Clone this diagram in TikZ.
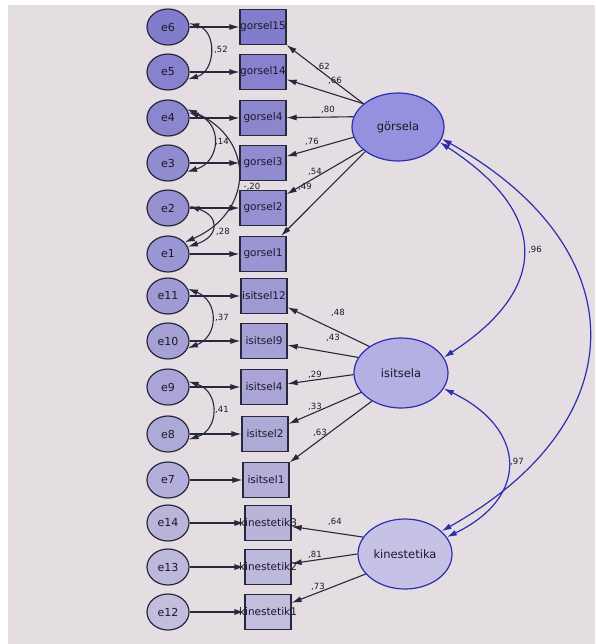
\documentclass[tikz,border=0pt]{standalone}
\usepackage{fontspec}
\setmainfont{DejaVu Sans}
\usetikzlibrary{shapes.geometric,arrows.meta}

\definecolor{bgc}{RGB}{228,222,227}
\definecolor{topc}{RGB}{130,124,205}
\definecolor{lowc}{RGB}{194,190,220}
\definecolor{edgec}{RGB}{40,40,60}
\definecolor{latedge}{RGB}{45,45,175}
\definecolor{txtc}{RGB}{25,25,40}
\definecolor{gorc}{RGB}{150,145,222}
\definecolor{isic}{RGB}{180,176,228}
\definecolor{kinc}{RGB}{198,194,230}

\tikzset{
  errvar/.style={ellipse, draw=edgec, line width=1.2pt, minimum width=42pt,
    minimum height=36pt, inner sep=0pt, text=txtc, font=\fontsize{11}{13}\selectfont},
  obsvar/.style={rectangle, draw=edgec, line width=1.2pt, minimum width=46pt,
    minimum height=35pt, inner sep=0pt, text=txtc, font=\fontsize{10.5}{12}\selectfont},
  kinbox/.style={obsvar, inner xsep=-6pt},
  latvar/.style={ellipse, draw=latedge, line width=1.2pt, minimum width=94pt,
    minimum height=70pt, inner sep=0pt, text=txtc, font=\fontsize{11.5}{13}\selectfont},
  load/.style={-{Latex[length=10pt,width=6pt]}, line width=1.1pt, draw=edgec},
  cov/.style={{Latex[length=10pt,width=6pt]}-{Latex[length=10pt,width=6pt]},
    line width=1.1pt, draw=edgec},
  lcov/.style={{Latex[length=10pt,width=6pt]}-{Latex[length=10pt,width=6pt]},
    line width=1.2pt, draw=latedge, fill=none},
  coef/.style={font=\fontsize{8.5}{10}\selectfont, text=txtc, inner sep=1pt}
}

\begin{document}
\begin{tikzpicture}[x=1pt,y=-1pt]
  % Draw background
  \useasboundingbox (0,0) rectangle (595,644);
  \fill[white] (0,0) rectangle (595,644);
  \fill[bgc] (8,5) rectangle (595,644);

  % error terms
  \node[errvar, fill=lowc!0!topc]   (e6)  at (168,27)  {e6};
  \node[errvar, fill=lowc!8!topc]   (e5)  at (168,72)  {e5};
  \node[errvar, fill=lowc!15!topc]  (e4)  at (168,118) {e4};
  \node[errvar, fill=lowc!23!topc]  (e3)  at (168,163) {e3};
  \node[errvar, fill=lowc!31!topc]  (e2)  at (168,208) {e2};
  \node[errvar, fill=lowc!38!topc]  (e1)  at (168,254) {e1};
  \node[errvar, fill=lowc!46!topc]  (e11) at (168,296) {e11};
  \node[errvar, fill=lowc!54!topc]  (e10) at (168,341) {e10};
  \node[errvar, fill=lowc!62!topc]  (e9)  at (168,387) {e9};
  \node[errvar, fill=lowc!69!topc]  (e8)  at (168,434) {e8};
  \node[errvar, fill=lowc!77!topc]  (e7)  at (168,480) {e7};
  \node[errvar, fill=lowc!85!topc]  (e14) at (168,523) {e14};
  \node[errvar, fill=lowc!92!topc]  (e13) at (168,567) {e13};
  \node[errvar, fill=lowc!100!topc] (e12) at (168,612) {e12};

  % indicators
  \node[obsvar, fill=lowc!0!topc]   (g15) at (263,27)  {gorsel15};
  \node[obsvar, fill=lowc!8!topc]   (g14) at (263,72)  {gorsel14};
  \node[obsvar, fill=lowc!15!topc]  (g4)  at (263,118) {gorsel4};
  \node[obsvar, fill=lowc!23!topc]  (g3)  at (263,163) {gorsel3};
  \node[obsvar, fill=lowc!31!topc]  (g2)  at (263,208) {gorsel2};
  \node[obsvar, fill=lowc!38!topc]  (g1)  at (263,254) {gorsel1};
  \node[obsvar, fill=lowc!46!topc]  (i12) at (264,296) {isitsel12};
  \node[obsvar, fill=lowc!54!topc]  (i9)  at (264,341) {isitsel9};
  \node[obsvar, fill=lowc!62!topc]  (i4)  at (264,387) {isitsel4};
  \node[obsvar, fill=lowc!69!topc]  (i2)  at (265,434) {isitsel2};
  \node[obsvar, fill=lowc!77!topc]  (i1)  at (266,480) {isitsel1};
  \node[kinbox, fill=lowc!85!topc]  (k3)  at (268,523) {kinestetik3};
  \node[kinbox, fill=lowc!92!topc]  (k2)  at (268,567) {kinestetik2};
  \node[kinbox, fill=lowc!100!topc] (k1)  at (268,612) {kinestetik1};

  % latent factors
  \node[latvar, fill=gorc, minimum width=92pt, minimum height=68pt] (gor) at (398,127) {görsela};
  \node[latvar, fill=isic] (isi) at (401,373) {isitsela};
  \node[latvar, fill=kinc] (kin) at (405,554) {kinestetika};

  % error arrows
  \draw[load] (e6) -- (g15);
  \draw[load] (e5) -- (g14);
  \draw[load] (e4) -- (g4);
  \draw[load] (e3) -- (g3);
  \draw[load] (e2) -- (g2);
  \draw[load] (e1) -- (g1);
  \draw[load] (e11) -- (i12);
  \draw[load] (e10) -- (i9);
  \draw[load] (e9) -- (i4);
  \draw[load] (e8) -- (i2);
  \draw[load] (e7) -- (i1);
  \draw[load] (e14) -- (k3);
  \draw[load] (e13) -- (k2);
  \draw[load] (e12) -- (k1);

  % loadings
  \draw[load] (gor.146) -- (g15);
  \draw[load] (gor.146) -- (g14);
  \draw[load] (gor.167) -- (g4);
  \draw[load] (gor.193) -- (g3);
  \draw[load] (gor.213) -- (g2);
  \draw[load] (gor.217) -- (g1);
  \draw[load] (isi.140) -- (i12);
  \draw[load] (isi.160) -- (i9);
  \draw[load] (isi.182) -- (i4);
  \draw[load] (isi.206) -- (i2);
  \draw[load] (isi.224) -- (i1);
  \draw[load] (kin.158) -- (k3);
  \draw[load] (kin.180) -- (k2);
  \draw[load] (kin.207) -- (k1);

  % error covariances
  \draw[cov] (e6.10) .. controls +(28,8) and +(28,-8) .. (e5.-20);
  \draw[cov] (e4.15) .. controls +(34,10) and +(34,-10) .. (e3.-25);
  \draw[cov] (e4.25) .. controls +(69,30) and +(69,-30) .. (e1.35);
  \draw[cov] (e2.5) .. controls +(31,10) and +(31,-10) .. (e1.20);
  \draw[cov] (e11.20) .. controls +(31,12) and +(31,-12) .. (e10.-20);
  \draw[cov] (e9.15) .. controls +(31,10) and +(31,-10) .. (e8.-15);

  % factor covariances
  \draw[lcov] (gor.-20) .. controls +(108,70) and +(108,-70) .. (isi.20);
  \draw[lcov] (gor.-15) .. controls +(196,110) and +(196,-110) .. (kin.32);
  \draw[lcov] (isi.-20) .. controls +(83,40) and +(83,-40) .. (kin.22);

  % labels
  \node[coef] (w62) at (323,67)  {,62};
  \node[coef] (w66) at (335,81)  {,66};
  \node[coef] (w80) at (328,110) {,80};
  \node[coef] (w76) at (312,142) {,76};
  \node[coef] (w54) at (315,172) {,54};
  \node[coef] (w49) at (305,187) {,49};
  \node[coef] (w48) at (338,313) {,48};
  \node[coef] (w43) at (333,338) {,43};
  \node[coef] (w29) at (315,375) {,29};
  \node[coef] (w33) at (315,407) {,33};
  \node[coef] (w63) at (320,433) {,63};
  \node[coef] (w64) at (335,522) {,64};
  \node[coef] (w81) at (315,555) {,81};
  \node[coef] (w73) at (318,587) {,73};

  \node[coef] (r52) at (221,50)  {,52};
  \node[coef] (r14) at (222,142) {,14};
  \node[coef] (r20) at (252,187) {-,20};
  \node[coef] (r28) at (223,232) {,28};
  \node[coef] (r37) at (222,318) {,37};
  \node[coef] (r41) at (222,410) {,41};
  \node[coef] (r96) at (535,250) {,96};
  \node[coef] (r97) at (517,462) {,97};
\end{tikzpicture}
\end{document}
